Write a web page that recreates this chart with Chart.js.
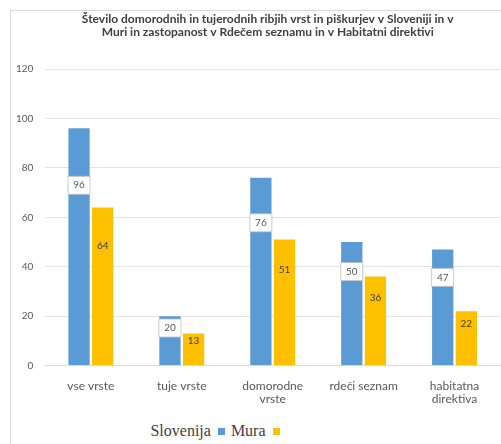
<!DOCTYPE html>
<html>
<head>
<meta charset="utf-8">
<script src="https://cdn.jsdelivr.net/npm/chart.js@4"></script>
<style>
  body { margin: 0; background: #fff; }
  #frame { position: absolute; left: 10px; top: 10px; width: 495px; height: 440px; border-left: 1px solid #d9d9d9; border-top: 1px solid #d9d9d9; }
  #wrap { position: absolute; left: 0; top: 12px; width: 501px; height: 400px; }
  #legend { position: absolute; left: 0; top: 422px; width: 436px; text-align: center; font-family: "Liberation Serif", serif; font-size: 16px; color: #404040; }
  #legend .box { display: inline-block; width: 7px; height: 7px; margin: 0 6px 1px 7px; }
</style>
</head>
<body>
<div id="frame"></div>
<div id="wrap"><canvas id="barChart"></canvas></div>
<div id="legend"></div>
<script>
var titleLines = ['Število domorodnih in tujerodnih ribjih vrst in piškurjev v Sloveniji in v',
                  'Muri in zastopanost v Rdečem seznamu in v Habitatni direktivi'];
var categories = [['vse vrste'], ['tuje vrste'], ['domorodne', 'vrste'], ['rdeči seznam'], ['habitatna', 'direktiva']];
var seriesNames = ['Slovenija', 'Mura'];
var slovenija = [96, 20, 76, 50, 47];
var mura = [64, 13, 51, 36, 22];
var colors = ['#5b9bd5', '#ffc000'];

// Title centred over the plot area, like the original
var plotTitle = {
    id: 'plotTitle',
    afterDraw: function(chart) {
        var ctx = chart.ctx;
        var a = chart.chartArea;
        ctx.save();
        ctx.font = 'bold 12px Lato';
        ctx.fillStyle = '#404040';
        ctx.textAlign = 'center';
        ctx.textBaseline = 'middle';
        titleLines.forEach(function(line, i) {
            ctx.fillText(line, (a.left + a.right) / 2 - 5, 7 + i * 13);
        });
        ctx.restore();
    }
};

// Draw value labels roughly in the upper part of each bar
var valueLabels = {
    id: 'valueLabels',
    afterDatasetsDraw: function(chart) {
        var ctx = chart.ctx;
        var y = chart.scales.y;
        ctx.save();
        ctx.font = '10px Lato';
        ctx.textAlign = 'center';
        ctx.textBaseline = 'middle';
        chart.data.datasets.forEach(function(ds, i) {
            chart.getDatasetMeta(i).data.forEach(function(bar, j) {
                var v = ds.data[j];
                var py = y.getPixelForValue(v * 0.76);
                if (i === 0) {
                    ctx.fillStyle = '#fff';
                    ctx.fillRect(bar.x - 11, py - 9, 22, 18);
                    ctx.strokeStyle = '#bfbfbf';
                    ctx.lineWidth = 0.8;
                    ctx.strokeRect(bar.x - 11, py - 9, 22, 18);
                    ctx.fillStyle = '#595959';
                } else {
                    ctx.fillStyle = '#404040';
                }
                ctx.fillText(v, bar.x, py);
            });
        });
        ctx.restore();
    }
};

var ctx1 = document.getElementById('barChart').getContext('2d');
window.myChart1 = new Chart(ctx1, {
    type: 'bar',
    data: {
        labels: categories,
        datasets: [{
            label: seriesNames[0],
            data: slovenija,
            backgroundColor: colors[0]
        }, {
            label: seriesNames[1],
            data: mura,
            backgroundColor: colors[1]
        }]
    },
    options: {
        responsive: true,
        maintainAspectRatio: false,
        animation: false,
        categoryPercentage: 0.52,
        barPercentage: 0.9,
        layout: { padding: { left: 4, right: 1, top: 57, bottom: 0 } },
        plugins: {
            title: { display: false },
            legend: { display: false },
            tooltip: { enabled: false }
        },
        scales: {
            x: {
                grid: { display: false },
                border: { color: '#d9d9d9' },
                ticks: { color: '#595959', font: { family: 'Lato', size: 12, lineHeight: 1.1 }, padding: 6, maxRotation: 0, autoSkip: false }
            },
            y: {
                min: 0,
                max: 120,
                ticks: { stepSize: 20, color: '#595959', font: { family: 'Lato', size: 10 }, padding: 12 },
                grid: { color: '#e3e3e3', drawTicks: false },
                border: { display: false }
            }
        }
    },
    plugins: [valueLabels, plotTitle]
});

var legendDiv = document.getElementById('legend');
seriesNames.forEach(function(name, i) {
    var s = document.createElement('span');
    s.textContent = name;
    legendDiv.appendChild(s);
    var b = document.createElement('span');
    b.className = 'box';
    b.style.background = colors[i];
    legendDiv.appendChild(b);
});
</script>
</body>
</html>
